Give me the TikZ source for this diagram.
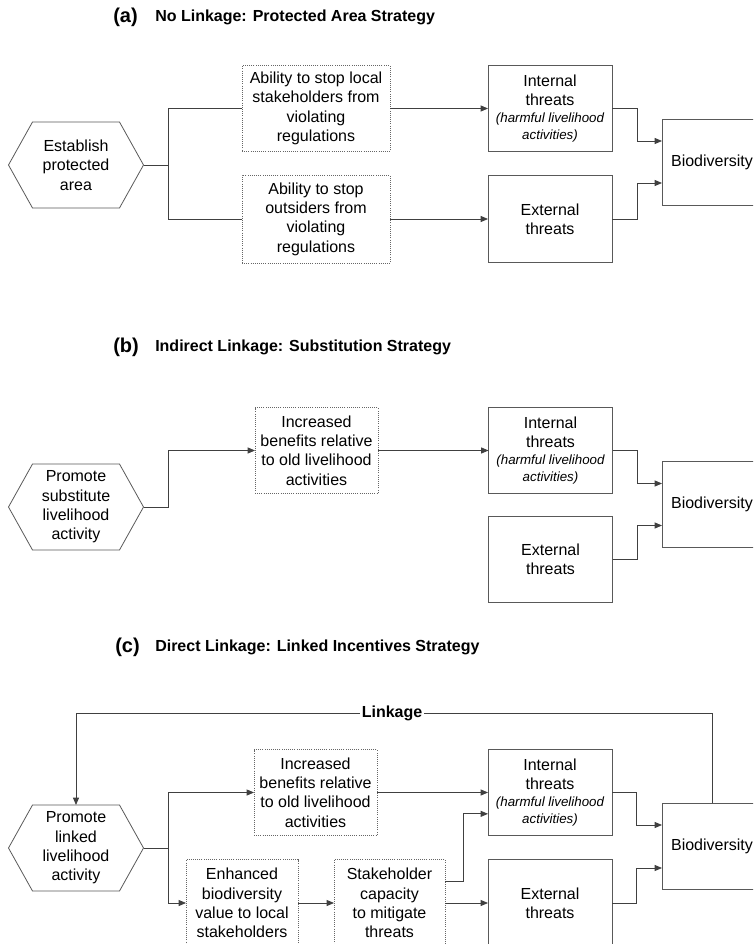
\documentclass[tikz,border=0pt]{standalone}
\usepackage{fontspec}
\setmainfont{Liberation Sans}
\usepackage{tikz}
\usetikzlibrary{arrows.meta,positioning}

\newcommand{\hnote}[1]{{\fontsize{10}{12}\selectfont\itshape #1}}

\begin{document}
\begin{tikzpicture}[x=0.75pt,y=-0.75pt]
		\tikzset{
			line/.style={draw=black!75, line width=0.6pt},
			arr/.style={line, -{Triangle[length=5.5pt,width=4.5pt]}},
			frame/.style={draw=black!65, line width=0.6pt},
			hexagon/.style={minimum width=101.25pt, minimum height=64.5pt, inner sep=0pt, outer sep=0pt, align=center},
			dotbox/.style={draw=black!60, densely dotted, line width=0.6pt, minimum height=64pt, inner sep=2pt, outer sep=0pt, align=center},
			solidbox/.style={frame, minimum width=93pt, minimum height=64pt, inner sep=2pt, outer sep=0pt, align=center},
			biobox/.style={frame, minimum width=75pt, minimum height=64.5pt, inner sep=0pt, outer sep=0pt},
			tag/.style={anchor=west, inner sep=0pt, font=\fontsize{15}{18}\selectfont\bfseries},
			heading/.style={anchor=west, inner sep=0pt, font=\fontsize{12}{14.5}\selectfont\bfseries},
			every node/.append style={font=\fontsize{12}{14.5}\selectfont}
		}
		\path[use as bounding box, clip] (0,0) rectangle (753,944);
		
		% (a) Protected area
		\node at (113,17) [tag] (tagA) {(a)};
		\node at (155,17) [heading] (headA) {No Linkage: Protected Area Strategy};
		\node at (76,165) [hexagon] (hexA) {Establish\\protected\\area};
		\node at (316,108.5) [dotbox, minimum width=111pt] (stopLocal) {Ability to stop local\\stakeholders from\\violating\\regulations};
		\node at (316,219) [dotbox, minimum width=111pt, minimum height=66pt] (stopOut) {Ability to stop\\outsiders from\\violating\\regulations};
		\node at (550,108.5) [solidbox] (intA) {Internal\\threats\\[-2pt]\hnote{(harmful livelihood}\\[-2pt]\hnote{activities)}};
		\node at (550,219) [solidbox, minimum height=65pt] (extA) {External\\threats};
		\node at (712,162) [biobox] (bioA) {Biodiversity};
		\coordinate (jA) at (168,165);
		
		\draw[line] (hexA.east) -- (jA);
		\draw[line] (jA) |- (stopLocal.west);
		\draw[line] (jA) |- (stopOut.west);
		\draw[arr] (stopLocal.east) -- (intA.west);
		\draw[arr] (stopOut.east) -- (extA.west);
		\draw[arr] (intA.east) -- ++(25,0) |- ([yshift=15.75pt]bioA.west);
		\draw[arr] (extA.east) -- ++(25,0) |- ([yshift=-15.75pt]bioA.west);
		
		% (b) Substitution
		\node at (113,347) [tag] (tagB) {(b)};
		\node at (155,347) [heading] (headB) {Indirect Linkage: Substitution Strategy};
		\node at (76,507) [hexagon] (hexB) {Promote\\substitute\\livelihood\\activity};
		\node at (316.5,450.5) [dotbox, minimum width=92.25pt] (benB) {Increased\\benefits relative\\to old livelihood\\activities};
		\node at (550.5,450.5) [solidbox] (intB) {Internal\\threats\\[-2pt]\hnote{(harmful livelihood}\\[-2pt]\hnote{activities)}};
		\node at (550.5,559.5) [solidbox] (extB) {External\\threats};
		\node at (712,504.5) [biobox] (bioB) {Biodiversity};
		
		\draw[arr] (hexB.east) -- ++(25,0) |- (benB.west);
		\draw[arr] (benB.east) -- (intB.west);
		\draw[arr] (intB.east) -- ++(25,0) |- ([yshift=15.75pt]bioB.west);
		\draw[arr] (extB.east) -- ++(25,0) |- ([yshift=-15.75pt]bioB.west);
		
		% (c) Linked incentives
		\node at (115,647) [tag] (tagC) {(c)};
		\node at (155,647) [heading] (headC) {Direct Linkage: Linked Incentives Strategy};
		\node at (392,713) [inner sep=1pt, font=\fontsize{12}{14.5}\selectfont\bfseries] (linkage) {Linkage};
		\node at (76,848) [hexagon] (hexC) {Promote\\linked\\livelihood\\activity};
		\node at (315.5,792.5) [dotbox, minimum width=92.25pt] (benC) {Increased\\benefits relative\\to old livelihood\\activities};
		\node at (242,903) [dotbox, minimum width=84pt, minimum height=65pt] (enhC) {Enhanced\\biodiversity\\value to local\\stakeholders};
		\node at (389.5,903) [dotbox, minimum width=83.25pt, minimum height=65pt] (stakeC) {Stakeholder\\capacity\\to mitigate\\threats};
		\node at (550,792.5) [solidbox] (intC) {Internal\\threats\\[-2pt]\hnote{(harmful livelihood}\\[-2pt]\hnote{activities)}};
		\node at (550,903) [solidbox, minimum height=65pt] (extC) {External\\threats};
		\node at (712,846) [biobox] (bioC) {Biodiversity};
		\coordinate (jC) at (168,848);
		
		\draw[line] (hexC.east) -- (jC);
		\draw[arr] (jC) |- (benC.west);
		\draw[arr] (jC) |- (enhC.west);
		\draw[arr] (benC.east) -- (intC.west);
		\draw[arr] (enhC.east) -- (stakeC.west);
		\draw[arr] (stakeC.east) -- (extC.west);
		\draw[arr] ([yshift=16.5pt]stakeC.east) -- ++(18,0) |- ([yshift=-16pt]intC.west);
		\draw[arr] (intC.east) -- ++(24,0) |- ([yshift=15.75pt]bioC.west);
		\draw[arr] (extC.east) -- ++(24,0) |- ([yshift=-16.5pt]bioC.west);
		\draw[line] (bioC.north) |- (linkage.east);
		\draw[arr] (linkage.west) -| (hexC.north);
		
		% Hexagon outlines
		\foreach \h in {hexA,hexB,hexC}
		\draw[frame] (\h.west) -- ([xshift=18pt]\h.north west) -- ([xshift=-18pt]\h.north east) -- (\h.east) -- ([xshift=-18pt]\h.south east) -- ([xshift=18pt]\h.south west) -- cycle;
\end{tikzpicture}
\end{document}
